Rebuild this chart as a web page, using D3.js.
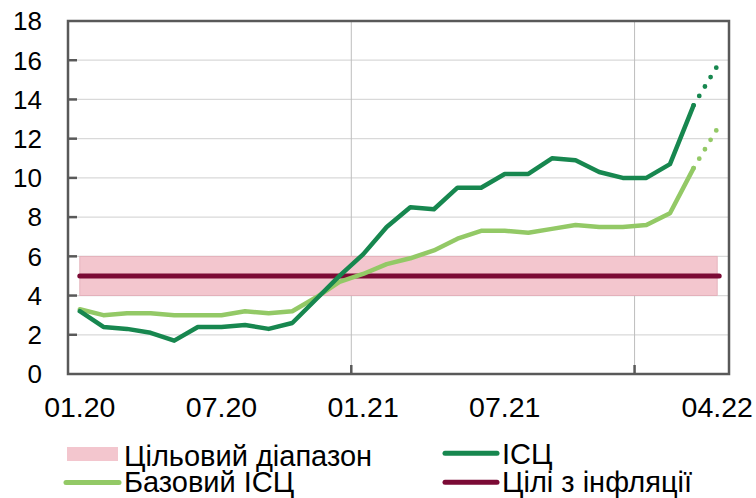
<!DOCTYPE html>
<html>
<head>
<meta charset="utf-8">
<script src="https://cdn.jsdelivr.net/npm/d3@7/dist/d3.min.js"></script>
<style>
  html, body { margin: 0; padding: 0; background: #fff; }
  svg { display: block; font-family: "Liberation Sans", Arial, sans-serif; }
</style>
</head>
<body>
<svg id="chart" width="756" height="498"></svg>
<script>
const months = ["01.20","02.20","03.20","04.20","05.20","06.20","07.20","08.20","09.20","10.20","11.20","12.20",
                "01.21","02.21","03.21","04.21","05.21","06.21","07.21","08.21","09.21","10.21","11.21","12.21",
                "01.22","02.22","03.22","04.22"];
const cpi  = [3.2,2.4,2.3,2.1,1.7,2.4,2.4,2.5,2.3,2.6,3.8,5.0,6.1,7.5,8.5,8.4,9.5,9.5,10.2,10.2,11.0,10.9,10.3,10.0,10.0,10.7,13.7,15.7];
const core = [3.3,3.0,3.1,3.1,3.0,3.0,3.0,3.2,3.1,3.2,3.9,4.7,5.1,5.6,5.9,6.3,6.9,7.3,7.3,7.2,7.4,7.6,7.5,7.5,7.6,8.2,10.5,12.5];
const target = 5;
const targetLow = 4, targetHigh = 6;
const forecastFrom = "03.22";
const xTickLabels = ["01.20","07.20","01.21","07.21","04.22"];
const yTicks = [0,2,4,6,8,10,12,14,16,18];
const yearBoundaries = ["01.21","01.22"];
const legendLabels = ["Цільовий діапазон","ІСЦ","Базовий ІСЦ","Цілі з інфляції"];

const C = { cpi: "#17874f", core: "#93c966", target: "#7b0a35", band: "#f3c6ce", bandEdge: "#e2aab5",
            axis: "#595959", grid: "#d9d9d9", vgrid: "#bdbdbd", text: "#000" };

const svg = d3.select("#chart");
const L = 68, R = 729, T = 21, B = 374;
const x = d3.scaleBand().domain(months).range([L, R]).padding(0);
const xc = m => x(m) + x.bandwidth() / 2;
const y = d3.scaleLinear().domain([0, 18]).range([B, T]);

// horizontal gridlines
svg.append("g").selectAll("line").data(yTicks.filter(v => v > 0 && v < 18)).join("line")
  .attr("x1", L).attr("x2", R).attr("y1", d => y(d)).attr("y2", d => y(d))
  .attr("stroke", C.grid).attr("stroke-width", 1.2);

// vertical gridlines at year boundaries
svg.append("g").selectAll("line").data(yearBoundaries).join("line")
  .attr("x1", d => x(d)).attr("x2", d => x(d)).attr("y1", T).attr("y2", B)
  .attr("stroke", C.vgrid).attr("stroke-width", 1);

// target band
const fi = months.indexOf(forecastFrom);
svg.append("rect")
  .attr("x", xc(months[0])).attr("width", xc(months[months.length-1]) - xc(months[0]))
  .attr("y", y(targetHigh)).attr("height", y(targetLow) - y(targetHigh))
  .attr("fill", C.band).attr("stroke", C.bandEdge).attr("stroke-width", 0.8);

// target line
svg.append("line")
  .attr("x1", xc(months[0])).attr("x2", xc(months[months.length-1]) + 2)
  .attr("y1", y(target)).attr("y2", y(target))
  .attr("stroke", C.target).attr("stroke-width", 5).attr("stroke-linecap", "round");

const line = d3.line().x(d => xc(d.m)).y(d => y(d.v));
function drawSeries(vals, color) {
  const pts = months.map((m, i) => ({ m, v: vals[i] }));
  svg.append("path").datum(pts.slice(0, fi + 1)).attr("d", line)
    .attr("fill", "none").attr("stroke", color).attr("stroke-width", 4.5)
    .attr("stroke-linejoin", "round").attr("stroke-linecap", "round");
  svg.append("path").datum(pts.slice(fi)).attr("d", line)
    .attr("fill", "none").attr("stroke", color).attr("stroke-width", 4.8)
    .attr("stroke-linecap", "round").attr("stroke-dasharray", "0 11");
}
drawSeries(core, C.core);
drawSeries(cpi, C.cpi);

// frame
svg.append("rect").attr("x", L).attr("y", T).attr("width", R - L).attr("height", B - T)
  .attr("fill", "none").attr("stroke", C.axis).attr("stroke-width", 2.5);

// y ticks (inward)
svg.append("g").selectAll("line").data(yTicks.filter(v => v > 0 && v < 18)).join("line")
  .attr("x1", L).attr("x2", L + 9).attr("y1", d => y(d)).attr("y2", d => y(d))
  .attr("stroke", C.axis).attr("stroke-width", 2.5);
// x ticks at year boundaries
svg.append("g").selectAll("line").data(yearBoundaries).join("line")
  .attr("x1", d => x(d)).attr("x2", d => x(d)).attr("y1", B).attr("y2", B - 9)
  .attr("stroke", C.axis).attr("stroke-width", 2.5);

// y labels
svg.append("g").selectAll("text").data(yTicks).join("text")
  .attr("x", 42).attr("y", d => y(d)).attr("dy", "0.36em")
  .attr("text-anchor", "end").attr("font-size", 26).attr("fill", C.text)
  .text(d => d);

// x labels
svg.append("g").selectAll("text").data(xTickLabels).join("text")
  .attr("x", d => xc(d)).attr("y", 417)
  .attr("text-anchor", "middle").attr("font-size", 28.5).attr("fill", C.text)
  .text(d => d);

// legend
const lg = svg.append("g").attr("font-size", 29).attr("fill", C.text);
lg.append("rect").attr("x", 67).attr("y", 447).attr("width", 51).attr("height", 14).attr("fill", C.band);
lg.append("text").attr("x", 124).attr("y", 465.5).text(legendLabels[0]);
lg.append("line").attr("x1", 66).attr("x2", 119).attr("y1", 482.5).attr("y2", 482.5)
  .attr("stroke", C.core).attr("stroke-width", 5).attr("stroke-linecap", "round");
lg.append("text").attr("x", 124).attr("y", 491.5).text(legendLabels[2]);
lg.append("line").attr("x1", 445).attr("x2", 497).attr("y1", 453.3).attr("y2", 453.3)
  .attr("stroke", C.cpi).attr("stroke-width", 5).attr("stroke-linecap", "round");
lg.append("text").attr("x", 502).attr("y", 464).text(legendLabels[1]);
lg.append("line").attr("x1", 445).attr("x2", 497).attr("y1", 482.3).attr("y2", 482.3)
  .attr("stroke", C.target).attr("stroke-width", 5).attr("stroke-linecap", "round");
lg.append("text").attr("x", 502).attr("y", 491.5).text(legendLabels[3]);
</script>
</body>
</html>
